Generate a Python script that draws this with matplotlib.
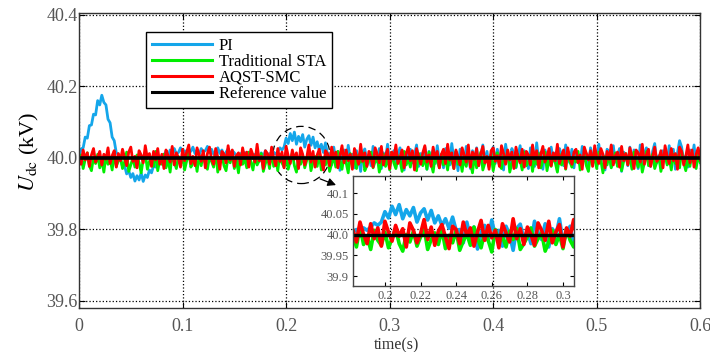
import numpy as np
import matplotlib
matplotlib.use("Agg")
import matplotlib.pyplot as plt
from matplotlib.patches import Ellipse


# ----------------------------
# Data
# ----------------------------
T_STEP = 0.002          # sample spacing of the traces (s)
REF_KV = 40.0           # reference dc voltage (kV)

# deviation from 40 kV in volts, one value every 2 ms from t = 0
pi_dev = [
    2, 25, 28, 58, 55, 90, 92, 122, 120, 160, 148, 175, 155, 148, 108, 98, 58, 48, 14, 10,
    -6, -24, -22, -45, -36, -55, -44, -65, -50, -62, -42, -66, -48, -55, -34, -42, -22, -26, -10, -12, 4,
    8, 18, 5, 22, 12, 26, 10, 15, 28, 14, 20, 6, 24, 18, 30, 12, 22, 8, 26, 16,
    20, 32, 14, 24, 10, 18, 28, 12, 22, 6, 16, 25, 10, 20, 14,
    5, -8, 12, 0, 15, -5, 8, 18, -2, 10, 4, -10, 14, 2, 20, 6, 12, -4, 16, 10,
    18, 28, 22, 30, 55, 40, 68, 48, 72, 38, 60, 45, 65, 30, 52, 62, 35, 58, 28, 45, 22, 38, 15, 42, 10,
    12, -20, 30, -8, 18, -35, 5, 22, -15, 35, -5, 10, -28, 20, 0, -38, 15, 25, -10, 8,
    -22, 32, 6, -12, 26, -30, 14, -4, 38, -18, 2, 20, -26, 10, 28, -8, -34, 16, 4, 24,
    -14, 8, 36, -24, 12, -6, 30, -32, 18, 0, 22, -16, 34, -10, 6, -28, 26, 14, -20, 40,
    -4, 16, -36, 24, 2, -18, 32, 10, -30, 20, -8, 28, -22, 4, 36, -12, 18, -26, 8, 30,
    -16, 24, -6, 14, -34, 38, 0, -20, 26, 12, -28, 6, 34, -14, 20, -2, -30, 28, 10, -24,
    42, -10, 16, -32, 22, 4, -18, 30, -6, 14, -36, 26, 8, -22, 36, 2, -14, 24, -28, 18,
    6, -20, 32, -8, 12, -30, 28, 0, 20, -16, 38, -4, 10, -34, 24, 14, -26, 34, -12, 4,
    26, -38, 16, 8, -22, 30, -10, 22, 2, -30, 36, -18, 12, 28, -6, -24, 18, 40, -14, 6,
    -28, 20, 10, -16, 34, -2, 24, -32, 14, 48, 30, -12, 6, -26, 22, -8, 36, -20, 16, 2,
]

sta_dev = [
    -10, 8, -30, -4, 14, -22, -36, 2, -16, 10, -28, -6, -40, 6, -18, -2, -34, 12, -24, -8,
    4, -30, -12, 16, -38, -20, 0, -26, 8, -14, -42, -4, 12, -32, -10, 2, -24, 18, -36, -6,
    -18, 10, -28, -2, -40, 14, -12, -30, 4, -20, 8, -34, -8, 16, -26, -14, 0, -38, 6, -22,
    12, -16, -32, 2, -10, -26, 18, -40, -4, 10, -22, -36, 4, -14, 14, -30, -6, -42, 8, -18,
    -2, -28, 16, -12, -34, 6, -20, -8, 12, -38, -16, 2, -30, 20, -24, -4, -36, 10, -14, -26,
    6, -32, -10, 14, -22, -40, 0, -18, 8, -28, -6, 16, -36, -12, 4, -24, 12, -34, -2, -20,
    10, -38, -16, 2, -26, 18, -8, -32, 6, -14, -42, 12, -20, -4, -30, 8, -12, 14, -36, -22,
    -6, 16, -28, -10, 4, -40, -18, 10, -24, 0, -34, 14, -14, -30, 6, -8, -38, 18, -20, -2,
    -26, 8, -12, -36, 12, -4, -22, 2, -32, 16, -16, -40, 6, -10, -28, 10, -20, 0, -34, 14,
    -8, -30, 18, -18, -2, -38, 4, -24, 12, -12, -42, 8, -28, -6, 16, -34, -14, 2, -22, 10,
    -36, -4, 14, -20, -30, 6, -10, 20, -40, -16, 2, -26, 10, -6, -34, 16, -22, -12, 8, -38,
    0, -18, 12, -28, -8, 16, -36, -2, -24, 6, -14, -40, 10, -20, 4, -32, 14, -10, -26, 2,
    -12, 18, -34, -6, 8, -22, -38, 12, -16, 0, -30, 16, -8, -42, 4, -20, 10, -28, -2, 14,
    -24, 6, -36, -10, 12, -18, 2, -32, 16, -6, -26, 8, -40, -14, 18, -22, -4, 10, -30, -12,
    4, -38, -8, 14, -20, 0, -34, 10, -16, 6, -28, 18, -12, -36, 2, -24, 12, -6, -30, 8,
    -14,
]

aqst_dev = [
    4, -18, 22, -6, 14, -24, 8, 26, -12, 2, 18, -20, 10, -4, 28, -16, 6, 20, -26, 12,
    -8, 24, 0, -22, 16, 30, -10, 4, -28, 20, 8, -14, 34, -2, 12, -24, 18, -6, 26, -18,
    10, -30, 22, 6, -12, 32, -20, 14, 0, -26, 24, -8, 16, 36, -16, 4, -22, 28, 8, -10,
    20, -28, 12, 30, -4, -18, 26, 2, -32, 18, 10, -14, 34, -6, 22, -24, 6, 14, -20, 28,
    -2, 16, -26, 24, 8, -12, 38, -8, 4, -30, 20, 12, -18, 30, 0, -22, 26, -10, 16, -28,
    32, 6, -16, 22, -4, 14, -30, 28, 10, -20, 2, 36, -12, 18, -26, 8, 24, -6, -34, 20,
    12, -22, 30, -2, 16, -28, 6, 34, -14, 22, -8, 10, -32, 26, 4, -18, 38, -10, 14, -24,
    18, 0, -26, 28, 10, -14, 32, -20, 6, 24, -30, 16, -4, 36, -16, 2, 22, -28, 12, 30,
    -8, 20, -34, 26, 4, -18, 14, 34, -12, 8, -24, 30, -2, 18, -28, 10, 24, -16, 38, -6,
    14, -30, 22, 2, -20, 28, 8, -12, 36, -26, 16, -4, 26, -22, 10, 32, -14, 4, -32, 20,
    28, -10, 6, -24, 34, 12, -18, 22, -6, 16, -30, 30, 2, -14, 24, -26, 18, 8, -20, 36,
    -4, 20, -28, 10, 32, -12, 4, 26, -22, 14, -8, 38, -16, 6, 22, -30, 28, 0, -18, 16,
    24, -14, 8, -32, 30, 12, -6, 20, -24, 34, 2, -16, 26, 10, -28, 18, -4, 36, -20, 6,
    16, -26, 32, -8, 12, -20, 28, 4, -30, 22, 14, -12, 38, -18, 8, 24, -24, 2, 30, -10,
    -2, 20, -28, 34, 6, -16, 26, -8, 12, -32, 30, 18, -20, 4, 36, -14, 22, -26, 10, 28,
    -6,
]

labels = ["PI", "Traditional STA", "AQST-SMC", "Reference value"]
colors = ["#14a6ea", "#00ee00", "#ff0000", "#000000"]

x_ticks = [0, 0.1, 0.2, 0.3, 0.4, 0.5, 0.6]
x_ticklabels = ["0", "0.1", "0.2", "0.3", "0.4", "0.5", "0.6"]
y_ticks = [39.6, 39.8, 40.0, 40.2, 40.4]
y_ticklabels = ["39.6", "39.8", "40.0", "40.2", "40.4"]

ins_x_ticks = [0.2, 0.22, 0.24, 0.26, 0.28, 0.3]
ins_x_ticklabels = ["0.2", "0.22", "0.24", "0.26", "0.28", "0.3"]
ins_y_ticks = [39.9, 39.95, 40.0, 40.05, 40.1]
ins_y_ticklabels = ["39.9", "39.95", "40.0", "40.05", "40.1"]

assert len(pi_dev) == len(sta_dev) == len(aqst_dev)


# ----------------------------
# Plot
# ----------------------------
plt.rcParams["font.family"] = ["Liberation Serif", "DejaVu Serif"]
plt.rcParams["mathtext.fontset"] = "stix"

t = np.arange(len(pi_dev)) * T_STEP
series = [REF_KV + np.asarray(d, dtype=float) / 1000.0 for d in (pi_dev, sta_dev, aqst_dev)]
ref = np.full_like(t, REF_KV)

TICK_GRAY = "#555555"

fig = plt.figure(figsize=(7.1, 3.52), dpi=100)
ax = fig.add_axes([0.1113, 0.125, 0.875, 0.838])

handles = []
for u, c, lab in zip(series, colors[:3], labels[:3]):
    h, = ax.plot(t, u, color=c, lw=2.0, label=lab)
    handles.append(h)
h, = ax.plot(t, ref, color=colors[3], lw=2.6, label=labels[3])
handles.append(h)

ax.set_xlim(0, 0.6)
ax.set_ylim(39.58, 40.405)
ax.set_xticks(x_ticks)
ax.set_xticklabels(x_ticklabels)
ax.set_yticks(y_ticks)
ax.set_yticklabels(y_ticklabels)
ax.grid(True, linestyle=":", color="k", linewidth=0.9)
ax.tick_params(direction="in", top=True, right=True, labelsize=13,
               labelcolor=TICK_GRAY, length=4)
ax.tick_params(axis="x", pad=7)
ax.tick_params(axis="y", pad=1)
for s in ax.spines.values():
    s.set_linewidth(1.0)
    s.set_color("#333333")

ax.set_xlabel("time(s)", fontsize=11.5, color="#333333")
ax.xaxis.set_label_coords(0.511, -0.098)
ax.set_ylabel(r"$U_{\rm dc}$ (kV)", fontsize=16)
ax.yaxis.set_label_coords(-0.062, 0.53)

leg = ax.legend(handles, labels, loc="upper left", bbox_to_anchor=(0.108, 0.936),
                borderaxespad=0, fontsize=12, frameon=True, fancybox=False,
                edgecolor="k", framealpha=1, labelspacing=0.0, handlelength=3.6,
                handletextpad=0.4, borderpad=0.35)
leg.get_frame().set_linewidth(1.0)
for line in leg.get_lines():
    line.set_linewidth(2.2)

# dashed circle marking the zoomed region and arrow to the inset
ax.add_patch(Ellipse((0.2148, 40.008), 0.055, 0.16, fill=False, color="k",
                     linestyle=(0, (6, 4)), linewidth=0.9))
ax.annotate("", xy=(0.2507, 39.921), xytext=(0.2303, 39.944),
            arrowprops=dict(arrowstyle="-|>", color="k", lw=0.9, mutation_scale=12))

# inset
axins = fig.add_axes([0.497, 0.1875, 0.311, 0.3125])
axins.patch.set_alpha(0)
for u, c in zip(series, colors[:3]):
    axins.plot(t, u, color=c, lw=2.6)
axins.plot(t, ref, color="k", lw=2.4)
axins.set_xlim(0.182, 0.306)
axins.set_ylim(39.876, 40.141)
axins.set_xticks(ins_x_ticks)
axins.set_xticklabels(ins_x_ticklabels)
axins.set_yticks(ins_y_ticks)
axins.set_yticklabels(ins_y_ticklabels)
axins.tick_params(direction="in", top=True, right=True, labelsize=9,
                  labelcolor=TICK_GRAY, length=3, pad=3)
for s in axins.spines.values():
    s.set_linewidth(1.0)
    s.set_color("#444444")

fig.savefig("out.png", dpi=100)
plt.close(fig)
